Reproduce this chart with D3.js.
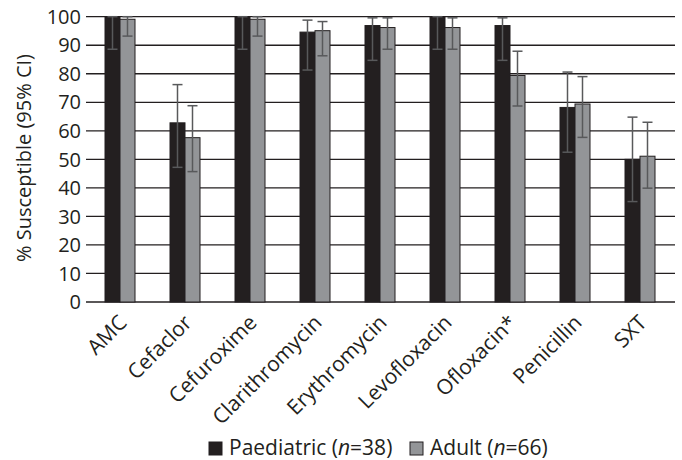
<!DOCTYPE html>
<html><head><meta charset="utf-8">
<script src="https://cdn.jsdelivr.net/npm/d3@7"></script>
<style>
html,body{margin:0;padding:0;background:#fff;}
text{font-family:"Open Sans",sans-serif;fill:#231f20;}
</style></head>
<body><svg id="chart" width="682" height="460"></svg>
<script>
const categories = ["AMC","Cefaclor","Cefuroxime","Clarithromycin","Erythromycin","Levofloxacin","Ofloxacin*","Penicillin","SXT"];
const paediatric = [100, 62.8, 100, 94.6, 96.9, 100, 96.9, 68.2, 50.0];
const paediatricLow = [88.6, 47.2, 88.6, 81.3, 84.7, 88.6, 84.7, 52.5, 35.2];
const paediatricHigh = [100, 76.2, 100, 98.8, 99.6, 100, 99.6, 80.6, 64.8];
const adult = [99.1, 57.6, 99.1, 95.1, 96.2, 96.2, 79.4, 69.4, 51.1];
const adultLow = [93.2, 45.7, 93.2, 86.3, 88.6, 88.6, 68.7, 57.7, 39.9];
const adultHigh = [100, 68.8, 100, 98.3, 99.6, 99.6, 87.9, 79.0, 63.0];
const yTicks = [0,10,20,30,40,50,60,70,80,90,100];
const seriesNames = ["Paediatric", "Adult"];
const seriesN = ["38", "66"];
const colors = ["#231f20", "#939598"];

const svg = d3.select("#chart");
const x = d3.scaleBand().domain(categories).range([87.5, 672.5]).padding(0);
const y = d3.scaleLinear().domain([0, 100]).range([302, 16.7]);
const barW = 15;

// gridlines + ticks
svg.append("g").selectAll("line").data(yTicks).join("line")
  .attr("x1", 86).attr("x2", 675)
  .attr("y1", d => y(d)).attr("y2", d => y(d))
  .attr("stroke", "#231f20").attr("stroke-width", 1.3);

// y labels
svg.append("g").selectAll("text").data(yTicks).join("text")
  .attr("x", 81).attr("y", d => y(d)).attr("dy", "0.36em")
  .attr("text-anchor", "end").attr("font-size", 20).text(d => d);

// y title
svg.append("text")
  .attr("transform", "translate(31,158) rotate(-90)")
  .attr("text-anchor", "middle").attr("font-size", 20)
  .text("% Susceptible (95% CI)");

const series = [
  {vals: paediatric, lo: paediatricLow, hi: paediatricHigh, off: -barW},
  {vals: adult, lo: adultLow, hi: adultHigh, off: 0}
];

series.forEach((s, si) => {
  const g = svg.append("g");
  g.selectAll("rect").data(categories).join("rect")
    .attr("x", (d) => x(d) + x.bandwidth()/2 + s.off)
    .attr("y", (d,i) => y(s.vals[i]))
    .attr("width", barW)
    .attr("height", (d,i) => y(0) - y(s.vals[i]))
    .attr("fill", colors[si])
    .attr("stroke", "#231f20").attr("stroke-width", 1);
});

series.forEach((s) => {
  const g = svg.append("g").attr("stroke", "#58595b").attr("stroke-width", 1.5);
  categories.forEach((c, i) => {
    const cx = x(c) + x.bandwidth()/2 + s.off + barW/2;
    g.append("line").attr("x1", cx).attr("x2", cx).attr("y1", y(s.lo[i])).attr("y2", y(s.hi[i]));
    g.append("line").attr("x1", cx-5).attr("x2", cx+5).attr("y1", y(s.lo[i])).attr("y2", y(s.lo[i]));
    g.append("line").attr("x1", cx-5).attr("x2", cx+5).attr("y1", y(s.hi[i])).attr("y2", y(s.hi[i]));
  });
});

// x labels
svg.append("g").selectAll("text").data(categories).join("text")
  .attr("transform", d => `translate(${x(d) + x.bandwidth()/2 + 8},324) rotate(-45)`)
  .attr("text-anchor", "end").attr("font-size", 21).text(d => d);

// legend
const legX = [209, 410];
seriesNames.forEach((name, i) => {
  svg.append("rect").attr("x", legX[i]).attr("y", 442).attr("width", 13).attr("height", 13)
    .attr("fill", colors[i]).attr("stroke", "#231f20").attr("stroke-width", 1);
  const t = svg.append("text").attr("x", legX[i] + 20).attr("y", 455).attr("font-size", 21);
  t.append("tspan").text(name + " (");
  t.append("tspan").attr("font-style", "italic").text("n");
  t.append("tspan").text("=" + seriesN[i] + ")");
});
</script></body></html>
